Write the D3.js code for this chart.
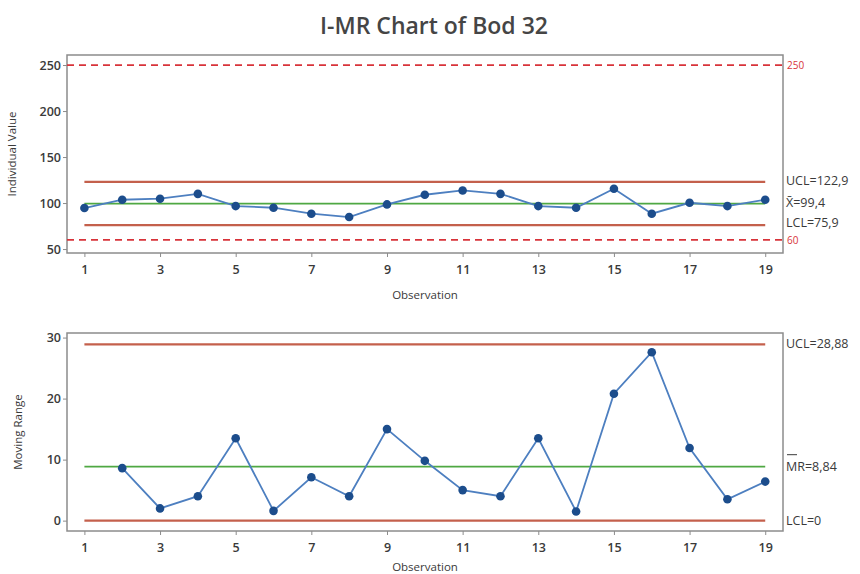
<!DOCTYPE html>
<html>
<head>
<meta charset="utf-8">
<script src="https://cdn.jsdelivr.net/npm/d3@7"></script>
<style>
  body { margin: 0; background: #fff; }
  text { font-family: "Open Sans", sans-serif; }
</style>
</head>
<body>
<svg id="chart" width="860" height="574"></svg>
<script>
// Observations 1..19
const observations = d3.range(1, 20);
const individualValues = [94.6, 103.6, 104.7, 110, 96.7, 94.9, 88.4, 84.8, 98.5, 109,
  113.7, 110, 96.7, 94.9, 115.5, 88.4, 100.3, 96.7, 103.6];
// moving range starts at observation 2
const movingRanges = [null, 8.6, 2.0, 4.0, 13.5, 1.6, 7.1, 4.0, 15.0, 9.8,
  5.0, 4.0, 13.5, 1.5, 20.8, 27.6, 11.9, 3.5, 6.4];
const iLimits = { ucl: 122.9, center: 99.4, lcl: 75.9 };
const iSpecs = [250, 60];
const mrLimits = { ucl: 28.88, center: 8.84, lcl: 0 };
const xTicks = [1, 3, 5, 7, 9, 11, 13, 15, 17, 19];
const iTicks = [50, 100, 150, 200, 250];
const mrTicks = [0, 10, 20, 30];

const svg = d3.select('#chart');
const left = 67, right = 783;

const colors = {
  limit: '#c4604c',
  center: '#4fa843',
  spec: '#d8333a',
  line: '#4d7fc0',
  dot: '#1c4d8c',
  frame: '#8c8c8c',
  text: '#3a3a3a'
};

svg.append('text')
  .attr('x', 434).attr('y', 34)
  .attr('text-anchor', 'middle')
  .style('font-size', '23px').style('font-weight', 600)
  .attr('fill', '#454545')
  .text('I-MR Chart of Bod 32');

const x = d3.scaleLinear().domain([0.54, 19.47]).range([left, right]);

function panel(cfg) {
  const { top, bottom, yDomain, ticks, yLabel, labelX, obsY } = cfg;
  const y = d3.scaleLinear().domain(yDomain).range([bottom, top]);
  const g = svg.append('g');

  // x axis
  const xAxis = d3.axisBottom(x).tickValues(xTicks).tickSize(4).tickSizeOuter(0);
  const xa = g.append('g').attr('transform', `translate(0,${bottom})`).call(xAxis);
  xa.select('.domain').remove();
  xa.selectAll('line').attr('stroke', colors.frame);
  xa.selectAll('text').attr('fill', colors.text).style('font-size', '12.5px')
    .style('font-weight', 600).attr('dy', '1.15em');

  // y axis
  const yAxis = d3.axisLeft(y).tickValues(ticks).tickSize(4).tickSizeOuter(0);
  const ya = g.append('g').attr('transform', `translate(${left},0)`).call(yAxis);
  ya.select('.domain').remove();
  ya.selectAll('line').attr('stroke', colors.frame);
  ya.selectAll('text').attr('fill', colors.text).style('font-size', '12.5px')
    .style('font-weight', 600).attr('x', -6);

  // frame
  g.append('rect')
    .attr('x', left).attr('y', top)
    .attr('width', right - left).attr('height', bottom - top)
    .attr('fill', 'none').attr('stroke', colors.frame).attr('stroke-width', 1.5);

  g.append('text')
    .attr('transform', `translate(${labelX},${(top + bottom) / 2}) rotate(-90)`)
    .attr('text-anchor', 'middle')
    .style('font-size', '11.5px').attr('fill', colors.text)
    .text(yLabel);

  g.append('text')
    .attr('x', (left + right) / 2).attr('y', obsY)
    .attr('text-anchor', 'middle')
    .style('font-size', '11.5px').attr('fill', colors.text)
    .text('Observation');

  return { g, y };
}

function drawSeries(g, y, values, limits, labels) {
  const x0 = x(1), x1 = x(19);
  [['ucl', colors.limit], ['lcl', colors.limit], ['center', colors.center]].forEach(([k, c]) => {
    g.append('line')
      .attr('x1', x0).attr('x2', x1)
      .attr('y1', y(limits[k])).attr('y2', y(limits[k]))
      .attr('stroke', c).attr('stroke-width', k === 'center' ? 1.8 : 2.2);
  });

  const pts = observations.map((o, i) => ({ o, v: values[i] })).filter(d => d.v != null);
  g.append('path')
    .datum(pts)
    .attr('fill', 'none')
    .attr('stroke', colors.line)
    .attr('stroke-width', 1.8)
    .attr('d', d3.line().x(d => x(d.o)).y(d => y(d.v)));

  g.selectAll('.dot')
    .data(pts)
    .enter()
    .append('circle')
    .attr('cx', d => x(d.o)).attr('cy', d => y(d.v))
    .attr('r', 4.3)
    .attr('fill', colors.dot);

  labels.forEach(l => {
    g.append('text')
      .attr('x', right + 3).attr('y', y(l.value) + l.dy)
      .attr('dominant-baseline', 'middle')
      .style('font-size', '12.5px').attr('fill', colors.text)
      .text(l.text);
  });
}

// Individual chart
const top1 = panel({ top: 55, bottom: 253, yDomain: [45.7, 260.9], ticks: iTicks, yLabel: 'Individual Value', labelX: 16, obsY: 299 });

iSpecs.forEach(s => {
  top1.g.append('line')
    .attr('x1', left).attr('x2', right)
    .attr('y1', top1.y(s)).attr('y2', top1.y(s))
    .attr('stroke', colors.spec).attr('stroke-width', 1.8)
    .attr('stroke-dasharray', '7,5');
  top1.g.append('text')
    .attr('x', right + 4).attr('y', top1.y(s) + 1)
    .attr('dominant-baseline', 'middle')
    .style('font-size', '10px').attr('fill', colors.spec)
    .text(s);
});

drawSeries(top1.g, top1.y, individualValues, iLimits, [
  { value: iLimits.ucl, dy: 0, text: 'UCL=122,9' },
  { value: iLimits.center, dy: 0, text: 'X\u0304=99,4' },
  { value: iLimits.lcl, dy: -2, text: 'LCL=75,9' }
]);

// Moving range chart
const bot = panel({ top: 333, bottom: 531, yDomain: [-1.7, 30.75], ticks: mrTicks, yLabel: 'Moving Range', labelX: 22, obsY: 571 });

drawSeries(bot.g, bot.y, movingRanges, mrLimits, [
  { value: mrLimits.ucl, dy: 0, text: 'UCL=28,88' },
  { value: mrLimits.center, dy: 1, text: 'MR=8,84' },
  { value: mrLimits.lcl, dy: 1, text: 'LCL=0' }
]);

// bar over MR
bot.g.append('line')
  .attr('x1', right + 4).attr('x2', right + 14)
  .attr('y1', bot.y(mrLimits.center) - 12).attr('y2', bot.y(mrLimits.center) - 12)
  .attr('stroke', colors.text).attr('stroke-width', 1);
</script>
</body>
</html>
